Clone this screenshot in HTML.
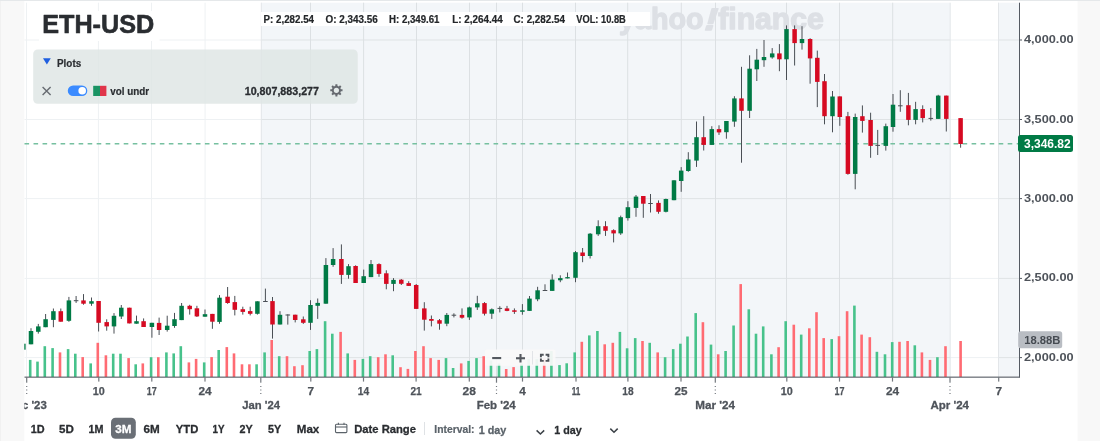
<!DOCTYPE html>
<html lang="en"><head><meta charset="utf-8"><title>ETH-USD chart</title>
<style>
html,body{margin:0;padding:0;background:#fff;}
body{width:1100px;height:441px;overflow:hidden;font-family:"Liberation Sans", Arial, sans-serif;}
svg{display:block;}
text{font-family:"Liberation Sans", Arial, sans-serif;}
.ax{font-size:12px;fill:#4e535a;font-weight:bold;}
.mo{font-size:12.5px;fill:#4e535a;font-weight:bold;}
.tb{font-size:12px;fill:#2a2d31;font-weight:bold;}
.hd{font-size:9px;fill:#2a2d31;font-weight:bold;}
</style></head><body>
<svg width="1100" height="441" viewBox="0 0 1100 441">
<rect x="0" y="0" width="1100" height="441" fill="#fff"/>
<rect x="0" y="0" width="24.3" height="441" fill="#f8f8f8"/>
<rect x="0" y="0" width="1" height="441" fill="#f1f1f1"/>
<rect x="1077.6" y="0" width="22.4" height="441" fill="#f8f8f8"/>
<rect x="261" y="2.7" width="689.2" height="374.3" fill="#f3f6f9"/>
<rect x="998.4" y="2.7" width="21.100000000000023" height="374.3" fill="#f3f6f9"/>
<rect x="0" y="0" width="1100" height="1" fill="#e5e8ea"/>
<line x1="24.5" x2="260.8" y1="40.0" y2="40.0" stroke="#eef1f3" stroke-width="1"/>
<line x1="260.8" x2="950" y1="40.0" y2="40.0" stroke="#dfe3e5" stroke-width="1"/>
<line x1="950" x2="998.4" y1="40.0" y2="40.0" stroke="#eef1f3" stroke-width="1"/>
<line x1="998.4" x2="1019" y1="40.0" y2="40.0" stroke="#dfe3e5" stroke-width="1"/>
<line x1="24.5" x2="260.8" y1="119.5" y2="119.5" stroke="#eef1f3" stroke-width="1"/>
<line x1="260.8" x2="950" y1="119.5" y2="119.5" stroke="#dfe3e5" stroke-width="1"/>
<line x1="950" x2="998.4" y1="119.5" y2="119.5" stroke="#eef1f3" stroke-width="1"/>
<line x1="998.4" x2="1019" y1="119.5" y2="119.5" stroke="#dfe3e5" stroke-width="1"/>
<line x1="24.5" x2="260.8" y1="198.6" y2="198.6" stroke="#eef1f3" stroke-width="1"/>
<line x1="260.8" x2="950" y1="198.6" y2="198.6" stroke="#dfe3e5" stroke-width="1"/>
<line x1="950" x2="998.4" y1="198.6" y2="198.6" stroke="#eef1f3" stroke-width="1"/>
<line x1="998.4" x2="1019" y1="198.6" y2="198.6" stroke="#dfe3e5" stroke-width="1"/>
<line x1="24.5" x2="260.8" y1="278.4" y2="278.4" stroke="#eef1f3" stroke-width="1"/>
<line x1="260.8" x2="950" y1="278.4" y2="278.4" stroke="#dfe3e5" stroke-width="1"/>
<line x1="950" x2="998.4" y1="278.4" y2="278.4" stroke="#eef1f3" stroke-width="1"/>
<line x1="998.4" x2="1019" y1="278.4" y2="278.4" stroke="#dfe3e5" stroke-width="1"/>
<line x1="24.5" x2="260.8" y1="357.6" y2="357.6" stroke="#eef1f3" stroke-width="1"/>
<line x1="260.8" x2="950" y1="357.6" y2="357.6" stroke="#dfe3e5" stroke-width="1"/>
<line x1="950" x2="998.4" y1="357.6" y2="357.6" stroke="#eef1f3" stroke-width="1"/>
<line x1="998.4" x2="1019" y1="357.6" y2="357.6" stroke="#dfe3e5" stroke-width="1"/>
<line x1="26.5" x2="26.5" y1="2.7" y2="377" stroke="#eef1f3" stroke-width="1"/>
<line x1="98.4" x2="98.4" y1="2.7" y2="377" stroke="#eef1f3" stroke-width="1"/>
<line x1="151.5" x2="151.5" y1="2.7" y2="377" stroke="#eef1f3" stroke-width="1"/>
<line x1="205.1" x2="205.1" y1="2.7" y2="377" stroke="#eef1f3" stroke-width="1"/>
<line x1="261.3" x2="261.3" y1="2.7" y2="377" stroke="#e3e6e9" stroke-width="1"/>
<line x1="310.5" x2="310.5" y1="2.7" y2="377" stroke="#dce0e3" stroke-width="1"/>
<line x1="363.6" x2="363.6" y1="2.7" y2="377" stroke="#dce0e3" stroke-width="1"/>
<line x1="416.5" x2="416.5" y1="2.7" y2="377" stroke="#dce0e3" stroke-width="1"/>
<line x1="469.5" x2="469.5" y1="2.7" y2="377" stroke="#dce0e3" stroke-width="1"/>
<line x1="496.5" x2="496.5" y1="2.7" y2="377" stroke="#dce0e3" stroke-width="1"/>
<line x1="522.5" x2="522.5" y1="2.7" y2="377" stroke="#dce0e3" stroke-width="1"/>
<line x1="575.5" x2="575.5" y1="2.7" y2="377" stroke="#dce0e3" stroke-width="1"/>
<line x1="627.7" x2="627.7" y1="2.7" y2="377" stroke="#dce0e3" stroke-width="1"/>
<line x1="681.3" x2="681.3" y1="2.7" y2="377" stroke="#dce0e3" stroke-width="1"/>
<line x1="715.5" x2="715.5" y1="2.7" y2="377" stroke="#dce0e3" stroke-width="1"/>
<line x1="786.5" x2="786.5" y1="2.7" y2="377" stroke="#dce0e3" stroke-width="1"/>
<line x1="839.5" x2="839.5" y1="2.7" y2="377" stroke="#dce0e3" stroke-width="1"/>
<line x1="892.7" x2="892.7" y1="2.7" y2="377" stroke="#dce0e3" stroke-width="1"/>
<line x1="950.2" x2="950.2" y1="2.7" y2="377" stroke="#e3e6e9" stroke-width="1"/>
<line x1="998.5" x2="998.5" y1="2.7" y2="377" stroke="#e3e6e9" stroke-width="1"/>
<g fill="#dde0e5" stroke="#dde0e5" stroke-width="1.3" stroke-linejoin="round" font-weight="bold" font-size="29">
<text x="619" y="29.4" textLength="84.5" lengthAdjust="spacingAndGlyphs">yahoo</text>
<text x="0" y="0" font-size="31" stroke-width="1.6" transform="translate(702.2 29.6) skewX(-17)" textLength="12.5" lengthAdjust="spacingAndGlyphs">!</text>
<text x="718.3" y="29.4" textLength="105.5" lengthAdjust="spacingAndGlyphs">finance</text>
</g>
<g>
<rect x="28.90" y="359.9" width="2.6" height="17.1" fill="#47c28b"/>
<rect x="36.20" y="361.6" width="2.6" height="15.4" fill="#47c28b"/>
<rect x="43.50" y="346.2" width="2.6" height="30.8" fill="#47c28b"/>
<rect x="51.30" y="348.1" width="2.6" height="28.9" fill="#47c28b"/>
<rect x="58.70" y="352.4" width="2.6" height="24.6" fill="#ff6b73"/>
<rect x="66.80" y="349.1" width="2.6" height="27.9" fill="#47c28b"/>
<rect x="74.00" y="353.7" width="2.6" height="23.3" fill="#47c28b"/>
<rect x="81.40" y="357.1" width="2.6" height="19.9" fill="#ff6b73"/>
<rect x="89.40" y="363.4" width="2.6" height="13.6" fill="#47c28b"/>
<rect x="96.50" y="342.8" width="2.6" height="34.2" fill="#ff6b73"/>
<rect x="104.60" y="355.3" width="2.6" height="21.7" fill="#ff6b73"/>
<rect x="111.90" y="353.7" width="2.6" height="23.3" fill="#47c28b"/>
<rect x="119.20" y="353.7" width="2.6" height="23.3" fill="#47c28b"/>
<rect x="127.30" y="358.1" width="2.6" height="18.9" fill="#ff6b73"/>
<rect x="134.40" y="364.3" width="2.6" height="12.7" fill="#47c28b"/>
<rect x="141.50" y="363.4" width="2.6" height="13.6" fill="#ff6b73"/>
<rect x="149.80" y="357.2" width="2.6" height="19.8" fill="#47c28b"/>
<rect x="157.00" y="357.2" width="2.6" height="19.8" fill="#ff6b73"/>
<rect x="165.10" y="352.4" width="2.6" height="24.6" fill="#47c28b"/>
<rect x="172.40" y="353.4" width="2.6" height="23.6" fill="#47c28b"/>
<rect x="179.50" y="346.2" width="2.6" height="30.8" fill="#47c28b"/>
<rect x="187.60" y="362.4" width="2.6" height="14.6" fill="#ff6b73"/>
<rect x="194.80" y="358.9" width="2.6" height="18.1" fill="#ff6b73"/>
<rect x="202.90" y="362.4" width="2.6" height="14.6" fill="#47c28b"/>
<rect x="210.30" y="357.1" width="2.6" height="19.9" fill="#ff6b73"/>
<rect x="217.40" y="350.0" width="2.6" height="27.0" fill="#47c28b"/>
<rect x="225.50" y="347.1" width="2.6" height="29.9" fill="#ff6b73"/>
<rect x="232.70" y="353.4" width="2.6" height="23.6" fill="#ff6b73"/>
<rect x="240.70" y="364.3" width="2.6" height="12.7" fill="#ff6b73"/>
<rect x="248.10" y="364.3" width="2.6" height="12.7" fill="#ff6b73"/>
<rect x="255.30" y="364.3" width="2.6" height="12.7" fill="#47c28b"/>
<rect x="263.30" y="352.4" width="2.6" height="24.6" fill="#47c28b"/>
<rect x="270.40" y="340.0" width="2.6" height="37.0" fill="#ff6b73"/>
<rect x="277.90" y="356.2" width="2.6" height="20.8" fill="#47c28b"/>
<rect x="285.70" y="356.2" width="2.6" height="20.8" fill="#ff6b73"/>
<rect x="293.10" y="366.2" width="2.6" height="10.8" fill="#ff6b73"/>
<rect x="301.20" y="365.2" width="2.6" height="11.8" fill="#ff6b73"/>
<rect x="308.40" y="351.0" width="2.6" height="26.0" fill="#47c28b"/>
<rect x="315.60" y="349.1" width="2.6" height="27.9" fill="#47c28b"/>
<rect x="323.80" y="321.2" width="2.6" height="55.8" fill="#47c28b"/>
<rect x="331.00" y="333.7" width="2.6" height="43.3" fill="#47c28b"/>
<rect x="339.30" y="331.9" width="2.6" height="45.1" fill="#ff6b73"/>
<rect x="346.40" y="353.4" width="2.6" height="23.6" fill="#47c28b"/>
<rect x="353.50" y="359.9" width="2.6" height="17.1" fill="#ff6b73"/>
<rect x="361.60" y="358.9" width="2.6" height="18.1" fill="#47c28b"/>
<rect x="368.90" y="356.2" width="2.6" height="20.8" fill="#47c28b"/>
<rect x="376.90" y="357.2" width="2.6" height="19.8" fill="#ff6b73"/>
<rect x="384.20" y="354.3" width="2.6" height="22.7" fill="#ff6b73"/>
<rect x="391.40" y="355.3" width="2.6" height="21.7" fill="#47c28b"/>
<rect x="399.20" y="367.2" width="2.6" height="9.8" fill="#ff6b73"/>
<rect x="406.60" y="368.9" width="2.6" height="8.1" fill="#ff6b73"/>
<rect x="414.10" y="351.0" width="2.6" height="26.0" fill="#ff6b73"/>
<rect x="422.20" y="346.2" width="2.6" height="30.8" fill="#ff6b73"/>
<rect x="429.30" y="358.1" width="2.6" height="18.9" fill="#ff6b73"/>
<rect x="437.40" y="359.9" width="2.6" height="17.1" fill="#ff6b73"/>
<rect x="444.70" y="358.1" width="2.6" height="18.9" fill="#47c28b"/>
<rect x="451.80" y="368.0" width="2.6" height="9.0" fill="#47c28b"/>
<rect x="459.90" y="363.4" width="2.6" height="13.6" fill="#ff6b73"/>
<rect x="467.30" y="360.9" width="2.6" height="16.1" fill="#47c28b"/>
<rect x="475.20" y="358.1" width="2.6" height="18.9" fill="#47c28b"/>
<rect x="482.40" y="356.2" width="2.6" height="20.8" fill="#ff6b73"/>
<rect x="489.70" y="360.5" width="2.6" height="16.5" fill="#47c28b"/>
<rect x="497.70" y="363.5" width="2.6" height="13.5" fill="#47c28b"/>
<rect x="504.90" y="369.0" width="2.6" height="8.0" fill="#ff6b73"/>
<rect x="512.30" y="367.1" width="2.6" height="9.9" fill="#ff6b73"/>
<rect x="520.30" y="363.5" width="2.6" height="13.5" fill="#47c28b"/>
<rect x="527.40" y="359.1" width="2.6" height="17.9" fill="#47c28b"/>
<rect x="535.50" y="359.1" width="2.6" height="17.9" fill="#47c28b"/>
<rect x="542.90" y="358.3" width="2.6" height="18.7" fill="#ff6b73"/>
<rect x="550.10" y="351.1" width="2.6" height="25.9" fill="#47c28b"/>
<rect x="558.20" y="365.1" width="2.6" height="11.9" fill="#47c28b"/>
<rect x="565.40" y="363.3" width="2.6" height="13.7" fill="#47c28b"/>
<rect x="573.40" y="352.4" width="2.6" height="24.6" fill="#47c28b"/>
<rect x="580.50" y="341.8" width="2.6" height="35.2" fill="#ff6b73"/>
<rect x="588.00" y="335.4" width="2.6" height="41.6" fill="#47c28b"/>
<rect x="596.10" y="331.0" width="2.6" height="46.0" fill="#47c28b"/>
<rect x="603.40" y="344.3" width="2.6" height="32.7" fill="#ff6b73"/>
<rect x="611.50" y="342.8" width="2.6" height="34.2" fill="#ff6b73"/>
<rect x="618.60" y="331.9" width="2.6" height="45.1" fill="#47c28b"/>
<rect x="625.80" y="348.3" width="2.6" height="28.7" fill="#47c28b"/>
<rect x="633.90" y="338.1" width="2.6" height="38.9" fill="#47c28b"/>
<rect x="641.20" y="341.0" width="2.6" height="36.0" fill="#ff6b73"/>
<rect x="648.40" y="342.8" width="2.6" height="34.2" fill="#47c28b"/>
<rect x="656.40" y="352.4" width="2.6" height="24.6" fill="#ff6b73"/>
<rect x="663.80" y="357.2" width="2.6" height="19.8" fill="#47c28b"/>
<rect x="671.90" y="349.1" width="2.6" height="27.9" fill="#47c28b"/>
<rect x="679.10" y="343.7" width="2.6" height="33.3" fill="#47c28b"/>
<rect x="686.20" y="336.5" width="2.6" height="40.5" fill="#47c28b"/>
<rect x="694.40" y="313.1" width="2.6" height="63.9" fill="#47c28b"/>
<rect x="701.60" y="322.2" width="2.6" height="54.8" fill="#ff6b73"/>
<rect x="709.70" y="344.6" width="2.6" height="32.4" fill="#47c28b"/>
<rect x="716.90" y="354.3" width="2.6" height="22.7" fill="#ff6b73"/>
<rect x="724.30" y="351.0" width="2.6" height="26.0" fill="#47c28b"/>
<rect x="732.30" y="325.5" width="2.6" height="51.5" fill="#47c28b"/>
<rect x="739.40" y="284.1" width="2.6" height="92.9" fill="#ff6b73"/>
<rect x="747.50" y="309.3" width="2.6" height="67.7" fill="#47c28b"/>
<rect x="754.70" y="333.7" width="2.6" height="43.3" fill="#47c28b"/>
<rect x="761.90" y="326.4" width="2.6" height="50.6" fill="#47c28b"/>
<rect x="770.10" y="354.3" width="2.6" height="22.7" fill="#47c28b"/>
<rect x="777.30" y="347.2" width="2.6" height="29.8" fill="#ff6b73"/>
<rect x="784.40" y="321.2" width="2.6" height="55.8" fill="#47c28b"/>
<rect x="792.50" y="324.7" width="2.6" height="52.3" fill="#ff6b73"/>
<rect x="799.90" y="334.6" width="2.6" height="42.4" fill="#47c28b"/>
<rect x="808.00" y="328.3" width="2.6" height="48.7" fill="#ff6b73"/>
<rect x="815.20" y="312.2" width="2.6" height="64.8" fill="#ff6b73"/>
<rect x="822.40" y="338.1" width="2.6" height="38.9" fill="#ff6b73"/>
<rect x="830.40" y="339.1" width="2.6" height="37.9" fill="#47c28b"/>
<rect x="837.70" y="336.2" width="2.6" height="40.8" fill="#ff6b73"/>
<rect x="845.80" y="311.2" width="2.6" height="65.8" fill="#ff6b73"/>
<rect x="853.10" y="305.6" width="2.6" height="71.4" fill="#47c28b"/>
<rect x="860.30" y="334.6" width="2.6" height="42.4" fill="#ff6b73"/>
<rect x="868.50" y="337.2" width="2.6" height="39.8" fill="#ff6b73"/>
<rect x="875.60" y="351.8" width="2.6" height="25.2" fill="#47c28b"/>
<rect x="883.70" y="354.3" width="2.6" height="22.7" fill="#47c28b"/>
<rect x="890.90" y="342.1" width="2.6" height="34.9" fill="#47c28b"/>
<rect x="898.20" y="341.8" width="2.6" height="35.2" fill="#ff6b73"/>
<rect x="906.30" y="341.0" width="2.6" height="36.0" fill="#ff6b73"/>
<rect x="913.50" y="345.3" width="2.6" height="31.7" fill="#47c28b"/>
<rect x="920.60" y="352.4" width="2.6" height="24.6" fill="#ff6b73"/>
<rect x="928.70" y="359.9" width="2.6" height="17.1" fill="#ff6b73"/>
<rect x="936.10" y="357.2" width="2.6" height="19.8" fill="#47c28b"/>
<rect x="944.20" y="346.2" width="2.6" height="30.8" fill="#ff6b73"/>
<rect x="959.30" y="341.0" width="2.6" height="36.0" fill="#ff6b73"/>
</g>
<line x1="24.5" x2="1019" y1="143.75" y2="143.75" stroke="#76c0a0" stroke-width="1.3" stroke-dasharray="4.6 4.42"/>
<g>
<rect x="24.3" y="343.7" width="1.3" height="6" fill="#007a45"/>
<rect x="30.50" y="328.2" width="1" height="16.1" fill="#4a4f55"/>
<rect x="28.75" y="331.0" width="4.5" height="13.3" fill="#007a45"/>
<rect x="37.80" y="323.9" width="1" height="9.7" fill="#4a4f55"/>
<rect x="36.05" y="326.4" width="4.5" height="5.4" fill="#007a45"/>
<rect x="45.10" y="314.0" width="1" height="13.2" fill="#4a4f55"/>
<rect x="43.35" y="319.2" width="4.5" height="8.0" fill="#007a45"/>
<rect x="52.90" y="308.5" width="1" height="18.7" fill="#4a4f55"/>
<rect x="51.15" y="311.2" width="4.5" height="8.7" fill="#007a45"/>
<rect x="60.30" y="308.5" width="1" height="13.2" fill="#4a4f55"/>
<rect x="58.55" y="311.2" width="4.5" height="10.5" fill="#d60a22"/>
<rect x="68.40" y="296.9" width="1" height="24.9" fill="#4a4f55"/>
<rect x="66.65" y="300.4" width="4.5" height="20.4" fill="#007a45"/>
<rect x="75.60" y="296.0" width="1" height="6.9" fill="#4a4f55"/>
<rect x="73.80" y="300.2" width="4.6" height="1" fill="#4a4f55"/>
<rect x="83.00" y="294.1" width="1" height="10.6" fill="#4a4f55"/>
<rect x="81.25" y="300.4" width="4.5" height="3.3" fill="#d60a22"/>
<rect x="91.00" y="297.5" width="1" height="8.3" fill="#4a4f55"/>
<rect x="89.25" y="301.2" width="4.5" height="2.5" fill="#007a45"/>
<rect x="98.10" y="301.0" width="1" height="30.5" fill="#4a4f55"/>
<rect x="96.35" y="301.0" width="4.5" height="21.8" fill="#d60a22"/>
<rect x="106.20" y="319.3" width="1" height="11.4" fill="#4a4f55"/>
<rect x="104.45" y="322.1" width="4.5" height="4.3" fill="#d60a22"/>
<rect x="113.50" y="313.1" width="1" height="20.5" fill="#4a4f55"/>
<rect x="111.75" y="315.8" width="4.5" height="10.6" fill="#007a45"/>
<rect x="120.80" y="305.0" width="1" height="14.0" fill="#4a4f55"/>
<rect x="119.05" y="307.7" width="4.5" height="8.8" fill="#007a45"/>
<rect x="128.90" y="307.7" width="1" height="15.7" fill="#4a4f55"/>
<rect x="127.15" y="307.7" width="4.5" height="15.7" fill="#d60a22"/>
<rect x="136.00" y="315.6" width="1" height="8.1" fill="#4a4f55"/>
<rect x="134.25" y="321.2" width="4.5" height="2.5" fill="#007a45"/>
<rect x="143.10" y="318.4" width="1" height="8.6" fill="#4a4f55"/>
<rect x="141.35" y="321.2" width="4.5" height="5.8" fill="#d60a22"/>
<rect x="151.40" y="322.8" width="1" height="14.9" fill="#4a4f55"/>
<rect x="149.65" y="322.8" width="4.5" height="4.2" fill="#007a45"/>
<rect x="158.60" y="317.6" width="1" height="17.4" fill="#4a4f55"/>
<rect x="156.85" y="322.9" width="4.5" height="7.1" fill="#d60a22"/>
<rect x="166.70" y="315.7" width="1" height="15.9" fill="#4a4f55"/>
<rect x="164.95" y="325.7" width="4.5" height="4.3" fill="#007a45"/>
<rect x="174.00" y="312.9" width="1" height="14.9" fill="#4a4f55"/>
<rect x="172.25" y="319.2" width="4.5" height="6.8" fill="#007a45"/>
<rect x="181.10" y="303.0" width="1" height="17.1" fill="#4a4f55"/>
<rect x="179.35" y="305.8" width="4.5" height="14.3" fill="#007a45"/>
<rect x="189.20" y="304.8" width="1" height="9.8" fill="#4a4f55"/>
<rect x="187.45" y="305.8" width="4.5" height="3.4" fill="#d60a22"/>
<rect x="196.40" y="305.8" width="1" height="11.2" fill="#4a4f55"/>
<rect x="194.65" y="308.3" width="4.5" height="8.1" fill="#d60a22"/>
<rect x="204.50" y="309.5" width="1" height="7.2" fill="#4a4f55"/>
<rect x="202.75" y="314.2" width="4.5" height="2.5" fill="#007a45"/>
<rect x="211.90" y="313.9" width="1" height="14.9" fill="#4a4f55"/>
<rect x="210.15" y="313.9" width="4.5" height="7.8" fill="#d60a22"/>
<rect x="219.00" y="295.1" width="1" height="28.7" fill="#4a4f55"/>
<rect x="217.25" y="297.7" width="4.5" height="24.2" fill="#007a45"/>
<rect x="227.10" y="287.0" width="1" height="16.8" fill="#4a4f55"/>
<rect x="225.35" y="296.7" width="4.5" height="6.3" fill="#d60a22"/>
<rect x="234.30" y="295.9" width="1" height="19.5" fill="#4a4f55"/>
<rect x="232.55" y="302.1" width="4.5" height="7.7" fill="#d60a22"/>
<rect x="242.30" y="306.7" width="1" height="7.9" fill="#4a4f55"/>
<rect x="240.55" y="309.2" width="4.5" height="2.7" fill="#d60a22"/>
<rect x="249.70" y="306.7" width="1" height="8.7" fill="#4a4f55"/>
<rect x="247.95" y="311.1" width="4.5" height="2.7" fill="#d60a22"/>
<rect x="256.90" y="301.3" width="1" height="13.3" fill="#4a4f55"/>
<rect x="255.15" y="301.3" width="4.5" height="12.5" fill="#007a45"/>
<rect x="264.90" y="288.6" width="1" height="12.9" fill="#4a4f55"/>
<rect x="263.10" y="301.0" width="4.6" height="1" fill="#4a4f55"/>
<rect x="272.00" y="297.0" width="1" height="41.6" fill="#4a4f55"/>
<rect x="270.25" y="301.1" width="4.5" height="23.4" fill="#d60a22"/>
<rect x="279.50" y="311.2" width="1" height="13.3" fill="#4a4f55"/>
<rect x="277.75" y="314.8" width="4.5" height="9.7" fill="#007a45"/>
<rect x="287.30" y="314.3" width="1" height="10.3" fill="#4a4f55"/>
<rect x="285.50" y="314.5" width="4.6" height="1" fill="#4a4f55"/>
<rect x="294.70" y="314.7" width="1" height="7.7" fill="#4a4f55"/>
<rect x="292.95" y="314.7" width="4.5" height="5.3" fill="#d60a22"/>
<rect x="302.80" y="316.5" width="1" height="7.4" fill="#4a4f55"/>
<rect x="301.05" y="319.3" width="4.5" height="3.5" fill="#d60a22"/>
<rect x="310.00" y="300.2" width="1" height="29.7" fill="#4a4f55"/>
<rect x="308.25" y="305.0" width="4.5" height="17.8" fill="#007a45"/>
<rect x="317.20" y="298.5" width="1" height="20.4" fill="#4a4f55"/>
<rect x="315.45" y="302.9" width="4.5" height="2.9" fill="#007a45"/>
<rect x="325.40" y="258.1" width="1" height="45.6" fill="#4a4f55"/>
<rect x="323.65" y="265.0" width="4.5" height="38.7" fill="#007a45"/>
<rect x="332.60" y="248.1" width="1" height="18.7" fill="#4a4f55"/>
<rect x="330.85" y="259.0" width="4.5" height="6.0" fill="#007a45"/>
<rect x="340.90" y="244.4" width="1" height="39.5" fill="#4a4f55"/>
<rect x="339.15" y="259.0" width="4.5" height="15.9" fill="#d60a22"/>
<rect x="348.00" y="264.1" width="1" height="14.6" fill="#4a4f55"/>
<rect x="346.25" y="266.2" width="4.5" height="8.7" fill="#007a45"/>
<rect x="355.10" y="265.3" width="1" height="17.7" fill="#4a4f55"/>
<rect x="353.35" y="266.0" width="4.5" height="17.0" fill="#d60a22"/>
<rect x="363.20" y="269.6" width="1" height="13.4" fill="#4a4f55"/>
<rect x="361.45" y="276.2" width="4.5" height="6.8" fill="#007a45"/>
<rect x="370.50" y="260.0" width="1" height="17.1" fill="#4a4f55"/>
<rect x="368.75" y="264.1" width="4.5" height="13.0" fill="#007a45"/>
<rect x="378.50" y="263.3" width="1" height="13.5" fill="#4a4f55"/>
<rect x="376.75" y="264.1" width="4.5" height="9.8" fill="#d60a22"/>
<rect x="385.80" y="270.3" width="1" height="19.0" fill="#4a4f55"/>
<rect x="384.05" y="273.3" width="4.5" height="10.6" fill="#d60a22"/>
<rect x="393.00" y="278.1" width="1" height="13.1" fill="#4a4f55"/>
<rect x="391.25" y="279.9" width="4.5" height="4.0" fill="#007a45"/>
<rect x="400.80" y="279.0" width="1" height="6.0" fill="#4a4f55"/>
<rect x="399.05" y="279.7" width="4.5" height="4.1" fill="#d60a22"/>
<rect x="408.20" y="281.2" width="1" height="4.7" fill="#4a4f55"/>
<rect x="406.45" y="283.1" width="4.5" height="2.8" fill="#d60a22"/>
<rect x="415.70" y="284.0" width="1" height="24.9" fill="#4a4f55"/>
<rect x="413.95" y="285.0" width="4.5" height="23.9" fill="#d60a22"/>
<rect x="423.80" y="302.2" width="1" height="28.4" fill="#4a4f55"/>
<rect x="422.05" y="308.4" width="4.5" height="11.3" fill="#d60a22"/>
<rect x="430.90" y="315.5" width="1" height="10.9" fill="#4a4f55"/>
<rect x="429.15" y="319.0" width="4.5" height="1.8" fill="#d60a22"/>
<rect x="439.00" y="319.0" width="1" height="10.7" fill="#4a4f55"/>
<rect x="437.25" y="320.2" width="4.5" height="3.5" fill="#d60a22"/>
<rect x="446.30" y="313.0" width="1" height="13.2" fill="#4a4f55"/>
<rect x="444.55" y="314.9" width="4.5" height="8.8" fill="#007a45"/>
<rect x="453.40" y="313.3" width="1" height="4.1" fill="#4a4f55"/>
<rect x="451.60" y="314.7" width="4.6" height="1" fill="#4a4f55"/>
<rect x="461.50" y="308.4" width="1" height="10.3" fill="#4a4f55"/>
<rect x="459.75" y="314.9" width="4.5" height="2.8" fill="#d60a22"/>
<rect x="468.90" y="306.6" width="1" height="13.3" fill="#4a4f55"/>
<rect x="467.15" y="307.4" width="4.5" height="10.0" fill="#007a45"/>
<rect x="476.80" y="295.8" width="1" height="14.1" fill="#4a4f55"/>
<rect x="475.05" y="303.3" width="4.5" height="4.1" fill="#007a45"/>
<rect x="484.00" y="302.1" width="1" height="13.4" fill="#4a4f55"/>
<rect x="482.25" y="303.1" width="4.5" height="10.6" fill="#d60a22"/>
<rect x="491.30" y="308.4" width="1" height="10.5" fill="#4a4f55"/>
<rect x="489.55" y="309.3" width="4.5" height="4.4" fill="#007a45"/>
<rect x="499.30" y="306.2" width="1" height="6.2" fill="#4a4f55"/>
<rect x="497.50" y="307.9" width="4.6" height="1" fill="#4a4f55"/>
<rect x="506.50" y="305.9" width="1" height="5.3" fill="#4a4f55"/>
<rect x="504.75" y="308.4" width="4.5" height="2.5" fill="#d60a22"/>
<rect x="513.90" y="308.4" width="1" height="5.5" fill="#4a4f55"/>
<rect x="512.15" y="310.3" width="4.5" height="1.5" fill="#d60a22"/>
<rect x="521.90" y="304.1" width="1" height="10.6" fill="#4a4f55"/>
<rect x="520.15" y="310.3" width="4.5" height="1.5" fill="#007a45"/>
<rect x="529.00" y="296.0" width="1" height="14.9" fill="#4a4f55"/>
<rect x="527.25" y="298.6" width="4.5" height="12.3" fill="#007a45"/>
<rect x="537.10" y="286.8" width="1" height="14.4" fill="#4a4f55"/>
<rect x="535.35" y="290.3" width="4.5" height="9.0" fill="#007a45"/>
<rect x="544.50" y="284.3" width="1" height="6.2" fill="#4a4f55"/>
<rect x="542.70" y="290.0" width="4.6" height="1" fill="#4a4f55"/>
<rect x="551.70" y="274.3" width="1" height="16.6" fill="#4a4f55"/>
<rect x="549.95" y="279.6" width="4.5" height="11.3" fill="#007a45"/>
<rect x="559.80" y="275.3" width="1" height="6.9" fill="#4a4f55"/>
<rect x="558.05" y="278.1" width="4.5" height="2.2" fill="#007a45"/>
<rect x="567.00" y="272.5" width="1" height="5.9" fill="#4a4f55"/>
<rect x="565.25" y="277.1" width="4.5" height="1.3" fill="#007a45"/>
<rect x="575.00" y="251.0" width="1" height="31.2" fill="#4a4f55"/>
<rect x="573.25" y="252.2" width="4.5" height="25.6" fill="#007a45"/>
<rect x="582.10" y="248.0" width="1" height="14.2" fill="#4a4f55"/>
<rect x="580.35" y="252.5" width="4.5" height="3.5" fill="#d60a22"/>
<rect x="589.60" y="233.0" width="1" height="25.5" fill="#4a4f55"/>
<rect x="587.85" y="233.7" width="4.5" height="22.3" fill="#007a45"/>
<rect x="597.70" y="220.3" width="1" height="15.6" fill="#4a4f55"/>
<rect x="595.95" y="226.2" width="4.5" height="8.1" fill="#007a45"/>
<rect x="605.00" y="221.2" width="1" height="14.7" fill="#4a4f55"/>
<rect x="603.25" y="226.2" width="4.5" height="4.6" fill="#d60a22"/>
<rect x="613.10" y="229.3" width="1" height="13.1" fill="#4a4f55"/>
<rect x="611.35" y="230.2" width="4.5" height="3.2" fill="#d60a22"/>
<rect x="620.20" y="215.6" width="1" height="19.3" fill="#4a4f55"/>
<rect x="618.45" y="217.2" width="4.5" height="16.2" fill="#007a45"/>
<rect x="627.40" y="201.2" width="1" height="19.4" fill="#4a4f55"/>
<rect x="625.65" y="207.2" width="4.5" height="10.9" fill="#007a45"/>
<rect x="635.50" y="195.0" width="1" height="21.8" fill="#4a4f55"/>
<rect x="633.75" y="196.6" width="4.5" height="11.3" fill="#007a45"/>
<rect x="642.80" y="196.0" width="1" height="21.8" fill="#4a4f55"/>
<rect x="641.05" y="196.0" width="4.5" height="7.7" fill="#d60a22"/>
<rect x="650.00" y="194.0" width="1" height="18.5" fill="#4a4f55"/>
<rect x="648.20" y="203.0" width="4.6" height="1" fill="#4a4f55"/>
<rect x="658.00" y="200.4" width="1" height="13.3" fill="#4a4f55"/>
<rect x="656.25" y="202.9" width="4.5" height="8.9" fill="#d60a22"/>
<rect x="665.40" y="198.6" width="1" height="13.8" fill="#4a4f55"/>
<rect x="663.65" y="199.0" width="4.5" height="12.8" fill="#007a45"/>
<rect x="673.50" y="180.3" width="1" height="19.9" fill="#4a4f55"/>
<rect x="671.75" y="180.3" width="4.5" height="19.9" fill="#007a45"/>
<rect x="680.70" y="167.1" width="1" height="24.7" fill="#4a4f55"/>
<rect x="678.95" y="170.6" width="4.5" height="10.4" fill="#007a45"/>
<rect x="687.80" y="152.2" width="1" height="19.6" fill="#4a4f55"/>
<rect x="686.05" y="159.5" width="4.5" height="11.5" fill="#007a45"/>
<rect x="696.00" y="121.5" width="1" height="45.4" fill="#4a4f55"/>
<rect x="694.25" y="137.2" width="4.5" height="23.4" fill="#007a45"/>
<rect x="703.20" y="116.2" width="1" height="34.3" fill="#4a4f55"/>
<rect x="701.45" y="137.2" width="4.5" height="7.7" fill="#d60a22"/>
<rect x="711.30" y="126.2" width="1" height="18.7" fill="#4a4f55"/>
<rect x="709.55" y="129.1" width="4.5" height="15.8" fill="#007a45"/>
<rect x="718.50" y="125.3" width="1" height="9.6" fill="#4a4f55"/>
<rect x="716.75" y="129.1" width="4.5" height="3.3" fill="#d60a22"/>
<rect x="725.90" y="121.0" width="1" height="17.7" fill="#4a4f55"/>
<rect x="724.15" y="121.0" width="4.5" height="11.2" fill="#007a45"/>
<rect x="733.90" y="96.2" width="1" height="30.6" fill="#4a4f55"/>
<rect x="732.15" y="98.4" width="4.5" height="23.2" fill="#007a45"/>
<rect x="741.00" y="66.8" width="1" height="95.9" fill="#4a4f55"/>
<rect x="739.25" y="98.4" width="4.5" height="12.4" fill="#d60a22"/>
<rect x="749.10" y="55.3" width="1" height="62.7" fill="#4a4f55"/>
<rect x="747.35" y="68.7" width="4.5" height="42.1" fill="#007a45"/>
<rect x="756.30" y="48.9" width="1" height="32.1" fill="#4a4f55"/>
<rect x="754.55" y="59.7" width="4.5" height="9.6" fill="#007a45"/>
<rect x="763.50" y="40.0" width="1" height="26.8" fill="#4a4f55"/>
<rect x="761.75" y="57.0" width="4.5" height="3.2" fill="#007a45"/>
<rect x="771.70" y="48.1" width="1" height="10.6" fill="#4a4f55"/>
<rect x="769.95" y="53.4" width="4.5" height="4.0" fill="#007a45"/>
<rect x="778.90" y="44.1" width="1" height="27.1" fill="#4a4f55"/>
<rect x="777.15" y="53.4" width="4.5" height="5.9" fill="#d60a22"/>
<rect x="786.00" y="25.4" width="1" height="54.6" fill="#4a4f55"/>
<rect x="784.25" y="29.1" width="4.5" height="30.2" fill="#007a45"/>
<rect x="794.10" y="25.4" width="1" height="40.1" fill="#4a4f55"/>
<rect x="792.35" y="29.1" width="4.5" height="14.0" fill="#d60a22"/>
<rect x="801.50" y="26.2" width="1" height="23.4" fill="#4a4f55"/>
<rect x="799.75" y="39.0" width="4.5" height="4.1" fill="#007a45"/>
<rect x="809.60" y="38.2" width="1" height="45.5" fill="#4a4f55"/>
<rect x="807.85" y="39.0" width="4.5" height="19.4" fill="#d60a22"/>
<rect x="816.80" y="50.6" width="1" height="56.5" fill="#4a4f55"/>
<rect x="815.05" y="57.8" width="4.5" height="24.1" fill="#d60a22"/>
<rect x="824.00" y="74.0" width="1" height="50.3" fill="#4a4f55"/>
<rect x="822.25" y="81.2" width="4.5" height="35.0" fill="#d60a22"/>
<rect x="832.00" y="91.0" width="1" height="41.3" fill="#4a4f55"/>
<rect x="830.25" y="96.5" width="4.5" height="19.7" fill="#007a45"/>
<rect x="839.30" y="96.4" width="1" height="29.4" fill="#4a4f55"/>
<rect x="837.55" y="96.4" width="4.5" height="20.6" fill="#d60a22"/>
<rect x="847.40" y="111.9" width="1" height="62.8" fill="#4a4f55"/>
<rect x="845.65" y="116.2" width="4.5" height="57.7" fill="#d60a22"/>
<rect x="854.70" y="113.6" width="1" height="75.7" fill="#4a4f55"/>
<rect x="852.95" y="117.0" width="4.5" height="56.9" fill="#007a45"/>
<rect x="861.90" y="105.4" width="1" height="27.2" fill="#4a4f55"/>
<rect x="860.15" y="116.2" width="4.5" height="4.7" fill="#d60a22"/>
<rect x="870.10" y="112.7" width="1" height="45.1" fill="#4a4f55"/>
<rect x="868.35" y="120.0" width="4.5" height="25.9" fill="#d60a22"/>
<rect x="877.20" y="129.9" width="1" height="25.1" fill="#4a4f55"/>
<rect x="875.40" y="144.9" width="4.6" height="1" fill="#4a4f55"/>
<rect x="885.30" y="123.6" width="1" height="27.0" fill="#4a4f55"/>
<rect x="883.55" y="126.2" width="4.5" height="19.7" fill="#007a45"/>
<rect x="892.50" y="94.0" width="1" height="37.7" fill="#4a4f55"/>
<rect x="890.75" y="104.7" width="4.5" height="22.3" fill="#007a45"/>
<rect x="899.80" y="90.2" width="1" height="21.6" fill="#4a4f55"/>
<rect x="898.00" y="105.3" width="4.6" height="1" fill="#4a4f55"/>
<rect x="907.90" y="92.9" width="1" height="32.4" fill="#4a4f55"/>
<rect x="906.15" y="105.2" width="4.5" height="14.7" fill="#d60a22"/>
<rect x="915.10" y="101.8" width="1" height="22.5" fill="#4a4f55"/>
<rect x="913.35" y="109.1" width="4.5" height="10.8" fill="#007a45"/>
<rect x="922.20" y="105.3" width="1" height="17.1" fill="#4a4f55"/>
<rect x="920.45" y="109.1" width="4.5" height="9.0" fill="#d60a22"/>
<rect x="930.30" y="108.1" width="1" height="12.5" fill="#4a4f55"/>
<rect x="928.50" y="117.9" width="4.6" height="1" fill="#4a4f55"/>
<rect x="937.70" y="94.8" width="1" height="24.1" fill="#4a4f55"/>
<rect x="935.95" y="95.6" width="4.5" height="23.3" fill="#007a45"/>
<rect x="945.80" y="95.6" width="1" height="35.9" fill="#4a4f55"/>
<rect x="944.05" y="95.6" width="4.5" height="23.3" fill="#d60a22"/>
<rect x="960.10" y="118.1" width="1" height="29.6" fill="#4a4f55"/>
<rect x="958.35" y="118.1" width="4.5" height="25.9" fill="#d60a22"/>
</g>
<rect x="24.5" y="376.6" width="995" height="1.1" fill="#555b63"/>
<rect x="1019" y="2.7" width="1" height="375" fill="#555b63"/>
<rect x="1020" y="39.5" width="2" height="1" fill="#555b63"/>
<text x="1023.90" y="43.00" font-size="11.6" font-weight="bold" fill="#4e535a" textLength="49.70" lengthAdjust="spacingAndGlyphs">4,000.00</text>
<rect x="1020" y="119.0" width="2" height="1" fill="#555b63"/>
<text x="1023.90" y="122.50" font-size="11.6" font-weight="bold" fill="#4e535a" textLength="49.70" lengthAdjust="spacingAndGlyphs">3,500.00</text>
<rect x="1020" y="198.1" width="2" height="1" fill="#555b63"/>
<text x="1023.90" y="201.60" font-size="11.6" font-weight="bold" fill="#4e535a" textLength="49.70" lengthAdjust="spacingAndGlyphs">3,000.00</text>
<rect x="1020" y="277.9" width="2" height="1" fill="#555b63"/>
<text x="1023.90" y="281.40" font-size="11.6" font-weight="bold" fill="#4e535a" textLength="49.70" lengthAdjust="spacingAndGlyphs">2,500.00</text>
<rect x="1020" y="357.1" width="2" height="1" fill="#555b63"/>
<text x="1023.90" y="360.60" font-size="11.6" font-weight="bold" fill="#4e535a" textLength="49.70" lengthAdjust="spacingAndGlyphs">2,000.00</text>
<rect x="1018" y="135" width="55" height="17" rx="2.5" fill="#007a45"/>
<text x="1024" y="147.8" font-size="12" font-weight="bold" fill="#fff">3,346.82</text>
<rect x="1018.2" y="331.2" width="44" height="17" rx="2.5" fill="#b9bdc3"/>
<text x="1024.20" y="343.80" font-size="11.6" font-weight="bold" fill="#464b52" textLength="36.20" lengthAdjust="spacingAndGlyphs">18.88B</text>
<rect x="98.2" y="377" width="1.2" height="4.6" fill="#74797f"/>
<text x="92.80" y="394.80" font-size="11.3" font-weight="bold" fill="#4e535a" stroke="#4e535a" stroke-width="0.25" stroke-linejoin="round" textLength="12.00" lengthAdjust="spacingAndGlyphs">10</text>
<rect x="151.20000000000002" y="377" width="1.2" height="4.6" fill="#74797f"/>
<text x="146.80" y="394.80" font-size="11.3" font-weight="bold" fill="#4e535a" stroke="#4e535a" stroke-width="0.25" stroke-linejoin="round" textLength="10.00" lengthAdjust="spacingAndGlyphs">17</text>
<rect x="204.4" y="377" width="1.2" height="4.6" fill="#74797f"/>
<text x="198.40" y="394.80" font-size="11.3" font-weight="bold" fill="#4e535a" stroke="#4e535a" stroke-width="0.25" stroke-linejoin="round" textLength="13.20" lengthAdjust="spacingAndGlyphs">24</text>
<rect x="310.2" y="377" width="1.2" height="4.6" fill="#74797f"/>
<text x="307.50" y="394.80" font-size="11.3" font-weight="bold" fill="#4e535a" stroke="#4e535a" stroke-width="0.25" stroke-linejoin="round" textLength="6.60" lengthAdjust="spacingAndGlyphs">7</text>
<rect x="362.9" y="377" width="1.2" height="4.6" fill="#74797f"/>
<text x="357.80" y="394.80" font-size="11.3" font-weight="bold" fill="#4e535a" stroke="#4e535a" stroke-width="0.25" stroke-linejoin="round" textLength="11.40" lengthAdjust="spacingAndGlyphs">14</text>
<rect x="415.5" y="377" width="1.2" height="4.6" fill="#74797f"/>
<text x="410.45" y="394.80" font-size="11.3" font-weight="bold" fill="#4e535a" stroke="#4e535a" stroke-width="0.25" stroke-linejoin="round" textLength="11.30" lengthAdjust="spacingAndGlyphs">21</text>
<rect x="468.7" y="377" width="1.2" height="4.6" fill="#74797f"/>
<text x="462.60" y="394.80" font-size="11.3" font-weight="bold" fill="#4e535a" stroke="#4e535a" stroke-width="0.25" stroke-linejoin="round" textLength="13.40" lengthAdjust="spacingAndGlyphs">28</text>
<rect x="521.9" y="377" width="1.2" height="4.6" fill="#74797f"/>
<text x="519.20" y="394.80" font-size="11.3" font-weight="bold" fill="#4e535a" stroke="#4e535a" stroke-width="0.25" stroke-linejoin="round" textLength="6.60" lengthAdjust="spacingAndGlyphs">4</text>
<rect x="575.4" y="377" width="1.2" height="4.6" fill="#74797f"/>
<text x="571.70" y="394.80" font-size="11.3" font-weight="bold" fill="#4e535a" stroke="#4e535a" stroke-width="0.25" stroke-linejoin="round" textLength="8.60" lengthAdjust="spacingAndGlyphs">11</text>
<rect x="627.3" y="377" width="1.2" height="4.6" fill="#74797f"/>
<text x="622.25" y="394.80" font-size="11.3" font-weight="bold" fill="#4e535a" stroke="#4e535a" stroke-width="0.25" stroke-linejoin="round" textLength="11.30" lengthAdjust="spacingAndGlyphs">18</text>
<rect x="680.4" y="377" width="1.2" height="4.6" fill="#74797f"/>
<text x="674.50" y="394.80" font-size="11.3" font-weight="bold" fill="#4e535a" stroke="#4e535a" stroke-width="0.25" stroke-linejoin="round" textLength="13.00" lengthAdjust="spacingAndGlyphs">25</text>
<rect x="786.1999999999999" y="377" width="1.2" height="4.6" fill="#74797f"/>
<text x="780.80" y="394.80" font-size="11.3" font-weight="bold" fill="#4e535a" stroke="#4e535a" stroke-width="0.25" stroke-linejoin="round" textLength="12.00" lengthAdjust="spacingAndGlyphs">10</text>
<rect x="838.9" y="377" width="1.2" height="4.6" fill="#74797f"/>
<text x="834.50" y="394.80" font-size="11.3" font-weight="bold" fill="#4e535a" stroke="#4e535a" stroke-width="0.25" stroke-linejoin="round" textLength="10.00" lengthAdjust="spacingAndGlyphs">17</text>
<rect x="891.9" y="377" width="1.2" height="4.6" fill="#74797f"/>
<text x="885.90" y="394.80" font-size="11.3" font-weight="bold" fill="#4e535a" stroke="#4e535a" stroke-width="0.25" stroke-linejoin="round" textLength="13.20" lengthAdjust="spacingAndGlyphs">24</text>
<rect x="998.1" y="377" width="1.2" height="4.6" fill="#74797f"/>
<text x="995.40" y="394.80" font-size="11.3" font-weight="bold" fill="#4e535a" stroke="#4e535a" stroke-width="0.25" stroke-linejoin="round" textLength="6.60" lengthAdjust="spacingAndGlyphs">7</text>
<clipPath id="cl"><rect x="24.3" y="370" width="1060" height="60"/></clipPath>
<g clip-path="url(#cl)">
<rect x="26.099999999999998" y="377" width="1.2" height="5.7" fill="#74797f"/>
<line x1="26.7" x2="26.7" y1="386" y2="395" stroke="#74797f" stroke-width="1.2" stroke-dasharray="1 2.5"/>
<text x="7.40" y="409.30" font-size="11.6" font-weight="bold" fill="#4e535a" stroke="#4e535a" stroke-width="0.3" stroke-linejoin="round" textLength="39.40" lengthAdjust="spacingAndGlyphs">Dec '23</text>
<rect x="260.2" y="377" width="1.2" height="5.7" fill="#74797f"/>
<line x1="260.8" x2="260.8" y1="386" y2="395" stroke="#74797f" stroke-width="1.2" stroke-dasharray="1 2.5"/>
<text x="242.30" y="409.30" font-size="11.6" font-weight="bold" fill="#4e535a" stroke="#4e535a" stroke-width="0.3" stroke-linejoin="round" textLength="37.70" lengthAdjust="spacingAndGlyphs">Jan '24</text>
<rect x="495.9" y="377" width="1.2" height="5.7" fill="#74797f"/>
<line x1="496.5" x2="496.5" y1="386" y2="395" stroke="#74797f" stroke-width="1.2" stroke-dasharray="1 2.5"/>
<text x="476.70" y="409.30" font-size="11.6" font-weight="bold" fill="#4e535a" stroke="#4e535a" stroke-width="0.3" stroke-linejoin="round" textLength="39.00" lengthAdjust="spacingAndGlyphs">Feb '24</text>
<rect x="714.6999999999999" y="377" width="1.2" height="5.7" fill="#74797f"/>
<line x1="715.3" x2="715.3" y1="386" y2="395" stroke="#74797f" stroke-width="1.2" stroke-dasharray="1 2.5"/>
<text x="695.30" y="409.30" font-size="11.6" font-weight="bold" fill="#4e535a" stroke="#4e535a" stroke-width="0.3" stroke-linejoin="round" textLength="39.70" lengthAdjust="spacingAndGlyphs">Mar '24</text>
<rect x="949.4" y="377" width="1.2" height="5.7" fill="#74797f"/>
<line x1="950" x2="950" y1="386" y2="395" stroke="#74797f" stroke-width="1.2" stroke-dasharray="1 2.5"/>
<text x="930.50" y="409.30" font-size="11.6" font-weight="bold" fill="#4e535a" stroke="#4e535a" stroke-width="0.3" stroke-linejoin="round" textLength="38.50" lengthAdjust="spacingAndGlyphs">Apr '24</text>
</g>
<rect x="39" y="11" width="120.5" height="30" fill="#fff"/>
<text x="42.20" y="33.30" font-size="25.5" font-weight="bold" fill="#2a2d31" stroke="#2a2d31" stroke-width="0.6" stroke-linejoin="round" textLength="112.00" lengthAdjust="spacingAndGlyphs">ETH-USD</text>
<rect x="261" y="12" width="389" height="14" fill="#fff"/>
<text x="263.60" y="22.60" font-size="10" font-weight="bold" fill="#24272a" stroke="#24272a" stroke-width="0.2" stroke-linejoin="round" textLength="50.40" lengthAdjust="spacingAndGlyphs">P: 2,282.54</text>
<text x="325.50" y="22.60" font-size="10" font-weight="bold" fill="#24272a" stroke="#24272a" stroke-width="0.2" stroke-linejoin="round" textLength="52.30" lengthAdjust="spacingAndGlyphs">O: 2,343.56</text>
<text x="389.00" y="22.60" font-size="10" font-weight="bold" fill="#24272a" stroke="#24272a" stroke-width="0.2" stroke-linejoin="round" textLength="50.50" lengthAdjust="spacingAndGlyphs">H: 2,349.61</text>
<text x="452.30" y="22.60" font-size="10" font-weight="bold" fill="#24272a" stroke="#24272a" stroke-width="0.2" stroke-linejoin="round" textLength="50.40" lengthAdjust="spacingAndGlyphs">L: 2,264.44</text>
<text x="513.50" y="22.60" font-size="10" font-weight="bold" fill="#24272a" stroke="#24272a" stroke-width="0.2" stroke-linejoin="round" textLength="51.50" lengthAdjust="spacingAndGlyphs">C: 2,282.54</text>
<text x="576.30" y="22.60" font-size="10" font-weight="bold" fill="#24272a" stroke="#24272a" stroke-width="0.2" stroke-linejoin="round" textLength="49.50" lengthAdjust="spacingAndGlyphs">VOL: 10.8B</text>
<rect x="33.2" y="49.5" width="324.5" height="54.3" rx="4.5" fill="#dee5e4" fill-opacity="0.82"/>
<path d="M43 58.2 L50.8 58.2 L46.9 64.6 Z" fill="#1f5fe0"/>
<text x="57.00" y="66.50" font-size="11.5" font-weight="bold" fill="#2a2d31" stroke="#2a2d31" stroke-width="0.2" stroke-linejoin="round" textLength="24.20" lengthAdjust="spacingAndGlyphs">Plots</text>
<path d="M42.6 87 L50.6 95 M50.6 87 L42.6 95" stroke="#666a70" stroke-width="1.4" fill="none"/>
<rect x="67.8" y="85.5" width="19.5" height="10.6" rx="5.3" fill="#3b8bff"/>
<circle cx="82.2" cy="90.8" r="3.8" fill="#fff"/>
<rect x="93.2" y="85.8" width="6.8" height="10.2" fill="#1a9464"/>
<rect x="100" y="85.8" width="6.4" height="10.2" fill="#e0354a"/>
<text x="110.20" y="94.80" font-size="11.5" font-weight="bold" fill="#2a2d31" stroke="#2a2d31" stroke-width="0.2" stroke-linejoin="round" textLength="39.00" lengthAdjust="spacingAndGlyphs">vol undr</text>
<text x="244.70" y="94.50" font-size="11" font-weight="bold" fill="#2a2d31" stroke="#2a2d31" stroke-width="0.3" stroke-linejoin="round" textLength="74.30" lengthAdjust="spacingAndGlyphs">10,807,883,277</text>
<path d="M342.52 89.31 L342.52 91.29 L340.88 91.36 L340.32 92.71 L341.43 93.93 L340.03 95.33 L338.81 94.22 L337.46 94.78 L337.39 96.42 L335.41 96.42 L335.34 94.78 L333.99 94.22 L332.77 95.33 L331.37 93.93 L332.48 92.71 L331.92 91.36 L330.28 91.29 L330.28 89.31 L331.92 89.24 L332.48 87.89 L331.37 86.67 L332.77 85.27 L333.99 86.38 L335.34 85.82 L335.41 84.18 L337.39 84.18 L337.46 85.82 L338.81 86.38 L340.03 85.27 L341.43 86.67 L340.32 87.89 L340.88 89.24 Z M339.0 90.3 A2.6 2.6 0 1 0 333.79999999999995 90.3 A2.6 2.6 0 1 0 339.0 90.3 Z" fill="#666a70" fill-rule="evenodd"/>
<rect x="485" y="349.5" width="70.5" height="16.3" rx="1.5" fill="#f9f9f9" fill-opacity="0.93"/>
<rect x="492.2" y="357" width="9" height="2.1" fill="#55595f"/>
<rect x="516" y="357.2" width="9" height="2.1" fill="#55595f"/>
<rect x="519.45" y="354" width="2.1" height="8.5" fill="#55595f"/>
<rect x="532.2" y="351" width="0.8" height="13.5" fill="#dcdfe3"/>
<path d="M540.9 357.3 V354.8 H543.7 M545.6 354.8 H548.4 V357.3 M548.4 358.6 V360.9 H545.6 M543.7 360.9 H540.9 V358.6" stroke="#4f5359" stroke-width="1.9" fill="none"/>
<text x="30.80" y="432.50" font-size="11.5" font-weight="bold" fill="#2a2d31" stroke="#2a2d31" stroke-width="0.3" stroke-linejoin="round" textLength="13.90" lengthAdjust="spacingAndGlyphs">1D</text>
<text x="59.00" y="432.50" font-size="11.5" font-weight="bold" fill="#2a2d31" stroke="#2a2d31" stroke-width="0.3" stroke-linejoin="round" textLength="14.80" lengthAdjust="spacingAndGlyphs">5D</text>
<text x="88.50" y="432.50" font-size="11.5" font-weight="bold" fill="#2a2d31" stroke="#2a2d31" stroke-width="0.3" stroke-linejoin="round" textLength="15.00" lengthAdjust="spacingAndGlyphs">1M</text>
<text x="143.50" y="432.50" font-size="11.5" font-weight="bold" fill="#2a2d31" stroke="#2a2d31" stroke-width="0.3" stroke-linejoin="round" textLength="16.20" lengthAdjust="spacingAndGlyphs">6M</text>
<text x="175.80" y="432.50" font-size="11.5" font-weight="bold" fill="#2a2d31" stroke="#2a2d31" stroke-width="0.3" stroke-linejoin="round" textLength="22.50" lengthAdjust="spacingAndGlyphs">YTD</text>
<text x="212.50" y="432.50" font-size="11.5" font-weight="bold" fill="#2a2d31" stroke="#2a2d31" stroke-width="0.3" stroke-linejoin="round" textLength="12.00" lengthAdjust="spacingAndGlyphs">1Y</text>
<text x="239.50" y="432.50" font-size="11.5" font-weight="bold" fill="#2a2d31" stroke="#2a2d31" stroke-width="0.3" stroke-linejoin="round" textLength="13.20" lengthAdjust="spacingAndGlyphs">2Y</text>
<text x="268.00" y="432.50" font-size="11.5" font-weight="bold" fill="#2a2d31" stroke="#2a2d31" stroke-width="0.3" stroke-linejoin="round" textLength="13.20" lengthAdjust="spacingAndGlyphs">5Y</text>
<text x="296.80" y="432.50" font-size="11.5" font-weight="bold" fill="#2a2d31" stroke="#2a2d31" stroke-width="0.3" stroke-linejoin="round" textLength="22.50" lengthAdjust="spacingAndGlyphs">Max</text>
<rect x="111" y="417.8" width="24.8" height="21" rx="4.5" fill="#6a6f76"/>
<text x="115.30" y="432.50" font-size="11.5" font-weight="bold" fill="#ffffff" stroke="#ffffff" stroke-width="0.3" stroke-linejoin="round" textLength="16.20" lengthAdjust="spacingAndGlyphs">3M</text>
<g stroke="#5b636a" stroke-width="1.1" fill="none"><rect x="335.5" y="424.3" width="11.4" height="8.3" rx="1"/><line x1="335.5" x2="346.9" y1="427" y2="427"/><line x1="338.4" x2="338.4" y1="422.7" y2="424.8"/><line x1="344" x2="344" y1="422.7" y2="424.8"/></g>
<text x="354.20" y="432.50" font-size="11.5" font-weight="bold" fill="#2a2d31" stroke="#2a2d31" stroke-width="0.3" stroke-linejoin="round" textLength="61.80" lengthAdjust="spacingAndGlyphs">Date Range</text>
<rect x="424.1" y="422" width="0.9" height="13" fill="#dcdfe3"/>
<text x="434.30" y="433.10" font-size="10.8" font-weight="bold" fill="#5b636a" stroke="#5b636a" stroke-width="0.2" stroke-linejoin="round" textLength="40.20" lengthAdjust="spacingAndGlyphs">Interval:</text>
<text x="478.70" y="434.30" font-size="11.8" font-weight="bold" fill="#5b636a" stroke="#5b636a" stroke-width="0.3" stroke-linejoin="round" textLength="27.60" lengthAdjust="spacingAndGlyphs">1 day</text>
<path d="M536.6 430.4 L540.4 434 L544.2 430.4" stroke="#3c4248" stroke-width="1.5" fill="none"/>
<text x="554.30" y="434.30" font-size="11.8" font-weight="bold" fill="#2a2d31" stroke="#2a2d31" stroke-width="0.3" stroke-linejoin="round" textLength="27.40" lengthAdjust="spacingAndGlyphs">1 day</text>
<path d="M610.3 428.6 L614 432.3 L617.7 428.6" stroke="#3c4248" stroke-width="1.5" fill="none"/>
</svg></body></html>
